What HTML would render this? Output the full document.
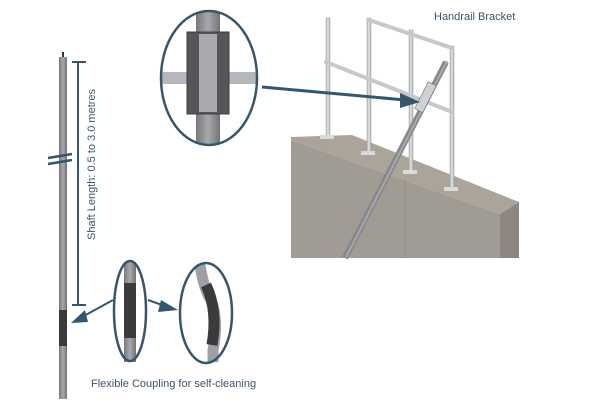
<!DOCTYPE html>
<html><head><style>
body{margin:0;background:#fff;}
svg{display:block;font-family:"Liberation Sans",sans-serif;}
</style></head><body>
<svg width="600" height="410" viewBox="0 0 600 410">
<defs>
<linearGradient id="sh" x1="0" x2="1"><stop offset="0" stop-color="#77787b"/><stop offset=".5" stop-color="#a8a9ac"/><stop offset="1" stop-color="#727376"/></linearGradient>
<linearGradient id="rl" x1="0" x2="1"><stop offset="0" stop-color="#b8babd"/><stop offset=".5" stop-color="#e2e3e5"/><stop offset="1" stop-color="#a9abae"/></linearGradient>
<clipPath id="zc"><ellipse cx="209" cy="78" rx="48" ry="67"/></clipPath>
</defs>
<!-- wall -->
<polygon points="291,137 352,135 519,202 500,214 291,140" fill="#aaa49a"/>
<polygon points="291,140 500,214 500,258 291,258" fill="#a09b93"/>
<polygon points="500,214 519,202 519,258 500,258" fill="#8c8881"/>
<line x1="405" y1="180" x2="405" y2="258" stroke="#938e87" stroke-width="1"/>
<!-- rails -->
<g fill="url(#rl)" stroke="#9a9ca0" stroke-width=".5">
<rect x="326" y="18" width="4" height="119"/>
<rect x="367" y="18" width="4" height="134"/>
<rect x="409" y="30" width="4" height="142"/>
<rect x="450" y="46" width="4" height="142"/>
</g>
<g stroke="#c6c8cb" stroke-width="4" stroke-linecap="round">
<line x1="369" y1="20" x2="452" y2="48"/>
<line x1="326" y1="62" x2="452" y2="112"/>
</g>
<g fill="#d8d9db"><rect x="320" y="135" width="14" height="4"/><rect x="361" y="151" width="14" height="4"/><rect x="403" y="170" width="14" height="4"/><rect x="444" y="187" width="14" height="4"/></g>
<!-- pole -->
<line x1="345" y1="258" x2="446" y2="62" stroke="#86878a" stroke-width="6"/>
<line x1="346" y1="257" x2="447" y2="61" stroke="#a7a8ab" stroke-width="2"/>
<rect x="421" y="82" width="9" height="30" fill="#cfd0d2" stroke="#777" stroke-width=".6" transform="rotate(27 425 97)"/>
<!-- arrow to bracket -->
<line x1="262" y1="87" x2="405" y2="100" stroke="#36566e" stroke-width="3"/>
<polygon points="420,102 400,93 400,108" fill="#36566e"/>
<text x="434" y="20" font-size="11" fill="#3d5468">Handrail Bracket</text>
<!-- zoom circle -->
<ellipse cx="209" cy="78" rx="48" ry="67" fill="#fff"/>
<g clip-path="url(#zc)">
<rect x="196" y="0" width="24" height="150" fill="url(#sh)"/>
<rect x="150" y="72" width="120" height="12" fill="#b6b7ba"/>
<rect x="187" y="32" width="42" height="82" fill="#55565a" stroke="#3e3f42"/>
<rect x="199" y="34" width="18" height="78" fill="#a9aaad"/>
</g>
<ellipse cx="209" cy="78" rx="48" ry="67" fill="none" stroke="#36566e" stroke-width="2.5"/>
<!-- left shaft -->
<rect x="62" y="52" width="2" height="6" fill="#333"/>
<rect x="59" y="57" width="8" height="342" fill="url(#sh)"/>
<rect x="59" y="310" width="8" height="36" fill="#3a3a3c"/>
<g stroke="#36566e" stroke-width="2.5"><line x1="48" y1="158" x2="72" y2="154"/><line x1="48" y1="164" x2="72" y2="160"/></g>
<g stroke="#36566e" stroke-width="2"><line x1="78" y1="62" x2="78" y2="305"/><line x1="72" y1="62" x2="86" y2="62"/><line x1="72" y1="305" x2="86" y2="305"/></g>
<text transform="translate(95,240) rotate(-90)" font-size="11" fill="#3d5468">Shaft Length: 0.5 to 3.0 metres</text>
<!-- arrows -->
<line x1="113" y1="300" x2="82" y2="317" stroke="#36566e" stroke-width="2"/>
<polygon points="71,323 85,310 88,322" fill="#36566e"/>
<line x1="148" y1="300" x2="165" y2="306" stroke="#36566e" stroke-width="2"/>
<polygon points="178,310 161,300 158,312" fill="#36566e"/>
<!-- small ellipses -->
<rect x="124" y="262" width="12" height="100" fill="url(#sh)"/>
<rect x="124" y="283" width="12" height="55" fill="#3b3b3d"/>
<ellipse cx="130" cy="311" rx="16" ry="50" fill="none" stroke="#36566e" stroke-width="2.5"/>
<path d="M200,265 Q204,290 211,300 Q219,320 213,350 L213,362" stroke="#a0a0a4" stroke-width="11" fill="none"/>
<path d="M206,285 Q218,310 212,345" stroke="#3b3b3d" stroke-width="11" fill="none"/>
<ellipse cx="206" cy="313" rx="26" ry="50" fill="none" stroke="#36566e" stroke-width="2.5"/>
<text x="91" y="387" font-size="11" fill="#3d5468">Flexible Coupling for self-cleaning</text>
</svg>
</body></html>
